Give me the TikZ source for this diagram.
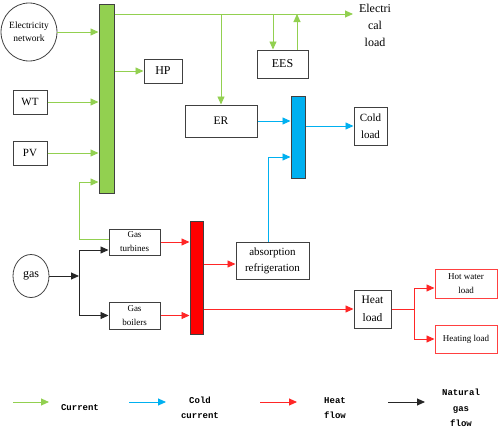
\documentclass[tikz,border=0pt]{standalone}
\usepackage{fontspec}
\setmainfont{Liberation Serif}
\newfontfamily\legfont{Liberation Mono}
\usetikzlibrary{arrows.meta,calc,shapes.geometric}
\definecolor{cgreen}{HTML}{92D050}
\definecolor{cblue}{HTML}{00B0F0}
\definecolor{cred}{HTML}{FF0000}
\definecolor{cedge}{HTML}{404040}
\tikzset{
  box/.style={draw=cedge, line width=1pt, fill=white, inner sep=1pt, align=center, font=\fontsize{11}{16}\selectfont},
  oval/.style={draw=cedge, line width=0.8pt, ellipse, inner sep=0pt, align=center},
  rbox/.style={draw=cred!75, line width=1pt, fill=white, inner sep=1pt, align=center, font=\fontsize{9}{14}\selectfont},
  bus/.style={draw=cedge, line width=1pt, inner sep=0pt},
  tip/.style={-{Triangle[length=8pt,width=7pt]}},
  garrow/.style={draw=cgreen, line width=0.9pt, tip},
  gline/.style={draw=cgreen, line width=0.9pt},
  barrow/.style={draw=cblue, line width=0.9pt, tip},
  rarrow/.style={draw=cred!85, line width=0.9pt, tip},
  rline/.style={draw=cred!85, line width=0.9pt},
  karrow/.style={draw=black!85, line width=0.9pt, tip},
  legtext/.style={font=\legfont\bfseries\fontsize{9}{15.5}\selectfont, align=center},
}
\begin{document}
\begin{tikzpicture}[x=1pt,y=-1pt]
\useasboundingbox (0,0) rectangle (498,429);
% nodes
\node[oval, minimum width=52, minimum height=58, font=\fontsize{9.5}{13}\selectfont] (elec) at (29,32) {Electricity\\network};
\node[bus, fill=cgreen, minimum width=15, minimum height=189] (gbus) at (106.5,98.5) {};
\node[box, minimum width=38, minimum height=24, font=\fontsize{12}{14}\selectfont] (hp) at (163,71) {HP};
\node[box, minimum width=34, minimum height=24] (wt) at (30,102) {WT};
\node[box, minimum width=34, minimum height=24] (pv) at (30,153) {PV};
\node[box, minimum width=72, minimum height=32, font=\fontsize{11.5}{14}\selectfont] (er) at (221,121) {ER};
\node[box, minimum width=51, minimum height=28, font=\fontsize{12}{14}\selectfont] (ees) at (282.5,64) {EES};
\node[bus, fill=cblue, minimum width=14, minimum height=82] (bbus) at (298,137) {};
\node[box, minimum width=33, minimum height=38, font=\fontsize{11}{17}\selectfont] (cold) at (370.5,126) {Cold\\load};
\node[align=center, font=\fontsize{12}{17}\selectfont, inner sep=0pt] (elload) at (375,25) {Electri\\cal\\load};
\coordinate (eltip) at (353,14);
\node[box, minimum width=51, minimum height=26, font=\fontsize{9}{14}\selectfont] (gt) at (134.5,242) {Gas\\turbines};
\node[box, minimum width=51, minimum height=27, font=\fontsize{9}{14}\selectfont] (gb) at (134.5,315.5) {Gas\\boilers};
\node[oval, minimum width=36, minimum height=43, font=\fontsize{12}{14}\selectfont] (gas) at (31,276) {gas};
\node[bus, fill=cred, minimum width=13, minimum height=113] (rbus) at (196.5,277.5) {};
\node[box, minimum width=73, minimum height=37, font=\fontsize{11}{16}\selectfont] (abs) at (272.5,260.5) {absorption\\refrigeration};
\node[box, minimum width=37, minimum height=38, font=\fontsize{11.5}{18}\selectfont] (heat) at (372.5,309) {Heat\\load};
\node[rbox, minimum width=62, minimum height=29] (hw) at (466,283.5) {Hot water\\load};
\node[rbox, minimum width=62, minimum height=28] (hl) at (466,339) {Heating load};
% helper coordinates
\coordinate (eesin) at ($(ees.north)+(-9.5,0)$);
\coordinate (eesout) at ($(ees.north)+(14.5,0)$);
\coordinate (absin) at ($(abs.west)+(0,3.5)$);
\coordinate (absout) at ($(abs.north)+(-4.5,0)$);
\coordinate (bbusin) at ($(bbus.west)+(0,20)$);
\coordinate (gtgreen) at ($(gt.west)+(0,-3)$);
\coordinate (gtin) at ($(gt.west)+(0,8)$);
\coordinate (hwin) at ($(hw.west)+(0,4.5)$);
% green connectors
\draw[garrow] (elec.east) -- (elec.east -| gbus.west);
\draw[garrow] (wt.east) -- (wt.east -| gbus.west);
\draw[garrow] (pv.east) -- (pv.east -| gbus.west);
\draw[garrow] (gbus.east |- eltip) -- (eltip);
\draw[garrow] (hp.west -| gbus.east) -- (hp.west);
\draw[garrow] (er.north |- eltip) -- (er.north);
\draw[garrow] (eesin |- eltip) -- (eesin);
\draw[garrow] (eesout) -- (eesout |- eltip);
\coordinate (gtcorner) at (79,182);
\draw[garrow] (gtgreen) -| (gtcorner) -- (gtcorner -| gbus.west);
% blue connectors
\draw[barrow] (er.east) -- (er.east -| bbus.west);
\draw[barrow] (cold.west -| bbus.east) -- (cold.west);
\draw[barrow] (absout) |- (bbusin);
% black connectors
\coordinate (gsplit) at (79,276);
\draw[karrow] (gas.east) -- (gsplit);
\draw[karrow] (gsplit) |- (gtin);
\draw[karrow] (gsplit) |- (gb.west);
% red connectors
\draw[rarrow] (gt.east) -- (gt.east -| rbus.west);
\draw[rarrow] (gb.east) -- (gb.east -| rbus.west);
\draw[rarrow] (absin -| rbus.east) -- (absin);
\draw[rarrow] (heat.west -| rbus.east) -- (heat.west);
\coordinate (hsplit) at (414,309);
\draw[rline] (heat.east) -- (hsplit);
\draw[rarrow] (hsplit) |- (hwin);
\draw[rarrow] (hsplit) |- (hl.west);
% legend
\coordinate (lg1) at (13,402); \coordinate (lg2) at (49,402);
\coordinate (lb1) at (129,402); \coordinate (lb2) at (166,402);
\coordinate (lr1) at (260,402); \coordinate (lr2) at (297,402);
\coordinate (lk1) at (388,402); \coordinate (lk2) at (425,402);
\draw[garrow] (lg1) -- (lg2);
\draw[barrow] (lb1) -- (lb2);
\draw[rarrow] (lr1) -- (lr2);
\draw[karrow] (lk1) -- (lk2);
\node[legtext] (tcur) at (80,408) {Current};
\node[legtext] (tcold) at (200,408) {Cold\\current};
\node[legtext] (theat) at (335,408) {Heat\\flow};
\node[legtext] (tgas) at (461,408) {Natural\\gas\\flow};
\end{tikzpicture}
\end{document}
